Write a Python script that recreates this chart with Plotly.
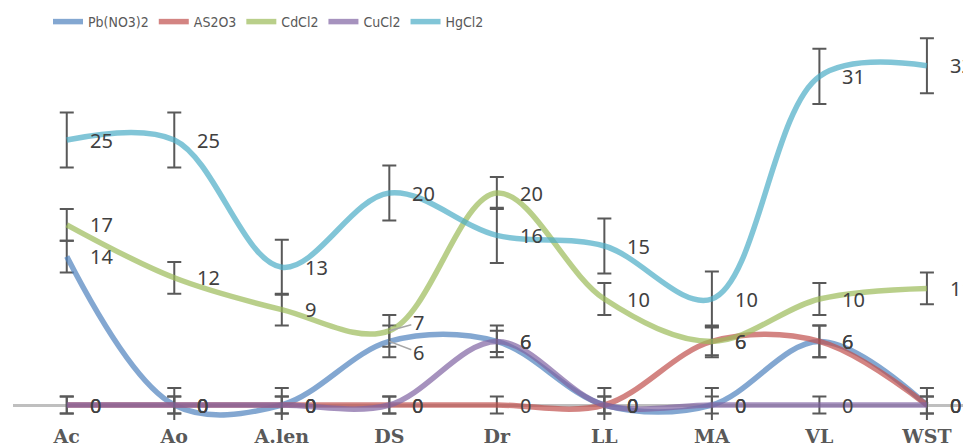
import plotly.graph_objects as go

categories = ["Ac", "Ao", "A.len", "DS", "Dr", "LL", "MA", "VL", "WST"]

pb_values = [14, 0, 0, 6, 6, 0, 0, 6, 0]
as_values = [0, 0, 0, 0, 0, 0, 6, 6, 0]
cd_values = [17, 12, 9, 7, 20, 10, 6, 10, 11]
cu_values = [0, 0, 0, 0, 6, 0, 0, 0, 0]
hg_values = [25, 25, 13, 20, 16, 15, 10, 31, 32]

pb_errors = [1.5, 1.6, 1.6, 1.5, 1.5, 1.6, 1.6, 1.5, 1.6]
as_errors = [0.8, 0.8, 0.8, 0.8, 0.8, 0.8, 1.5, 1.5, 0.8]
cd_errors = [1.5, 1.5, 1.5, 1.5, 1.5, 1.5, 1.3, 1.5, 1.5]
cu_errors = [0.8, 0.8, 0.8, 0.8, 1.0, 0.8, 0.8, 0.8, 0.8]
hg_errors = [2.6, 2.6, 2.6, 2.6, 2.6, 2.6, 2.6, 2.6, 2.6]

series = [
    ("Pb(NO3)2", pb_values, pb_errors, "rgba(79,129,189,0.7)"),
    ("AS2O3", as_values, as_errors, "rgba(192,80,77,0.7)"),
    ("CdCl2", cd_values, cd_errors, "rgba(155,187,89,0.7)"),
    ("CuCl2", cu_values, cu_errors, "rgba(128,100,162,0.7)"),
    ("HgCl2", hg_values, hg_errors, "rgba(75,172,198,0.7)"),
]

# labels moved off their point, drawn with a leader line: (series, index) -> (dx, dy) px
leader_labels = {("Pb(NO3)2", 3): (29, 11), ("CdCl2", 3): (29, -8)}

label_font = dict(family="Noto Sans, Open Sans, sans-serif", size=20, color="#404040")

fig = go.Figure()
annotations = []
for name, vals, errs, color in series:
    fig.add_trace(go.Scatter(
        x=categories, y=vals, name=name, mode="lines",
        line=dict(color=color, width=5.5, shape="spline", smoothing=1.0),
        error_y=dict(type="data", array=errs, visible=True,
                     color="#595959", thickness=2, width=7),
        hoverinfo="skip",
    ))
    for i, (c, v) in enumerate(zip(categories, vals)):
        if (name, i) in leader_labels:
            dx, dy = leader_labels[(name, i)]
            annotations.append(dict(
                x=c, y=v, text=str(v), showarrow=True, arrowhead=0,
                arrowwidth=1.5, arrowcolor="#A6A6A6", standoff=0,
                ax=dx, ay=dy, font=label_font,
            ))
        else:
            annotations.append(dict(
                x=c, y=v, text=str(v), showarrow=False, xanchor="left",
                yanchor="middle", xshift=21, font=label_font,
            ))

# the page body adds an 8px offset; margins compensate for it
fig.update_layout(
    width=971, height=446,
    margin=dict(l=5, r=8, t=27, b=34, autoexpand=False),
    paper_bgcolor="white", plot_bgcolor="white",
    showlegend=True,
    legend=dict(
        orientation="h", xref="container", yref="container",
        x=40 / 971, y=1 - 14 / 446, xanchor="left", yanchor="middle",
        font=dict(family="Liberation Sans Narrow, DejaVu Sans Condensed, sans-serif", size=14, color="#595959"),
        itemwidth=30, tracegroupgap=0,
    ),
    annotations=annotations,
    xaxis=dict(
        type="category", range=[-0.5, 8.41], showgrid=False, showline=False,
        ticks="", zeroline=False, fixedrange=True, automargin=False,
        ticklabelstandoff=3,
        tickfont=dict(family="DejaVu Serif, serif", size=19, color="#595959", weight="bold"),
    ),
    yaxis=dict(
        range=[-1.415, 34.906], showgrid=False, showticklabels=False,
        zeroline=True, zerolinecolor="#BFBFBF", zerolinewidth=2.5,
        showline=False, ticks="", automargin=False,
    ),
)

fig.write_html("out.html")
